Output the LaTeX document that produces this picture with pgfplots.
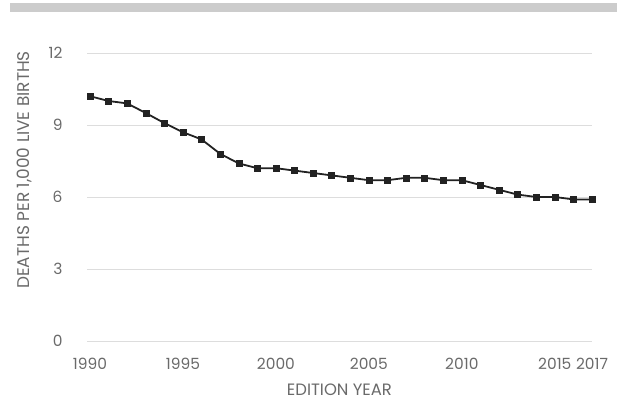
\documentclass[border=0pt]{standalone}
\usepackage{pgfplots}
\pgfplotsset{compat=1.18}
\usepackage{fontspec}
\setmainfont{Poppins}
\definecolor{txtc}{HTML}{6A6A6A}
\definecolor{gridc}{HTML}{DDDDDD}
\definecolor{linec}{HTML}{222222}
\definecolor{barc}{HTML}{CCCCCC}
\begin{document}
\begin{tikzpicture}
\useasboundingbox (0bp,0bp) rectangle (617bp,400bp);
\fill[barc] (10bp,388bp) rectangle (617bp,397bp);
\begin{axis}[
  at={(87bp,59bp)}, anchor=south west,
  scale only axis, width=505bp, height=288bp,
  xmin=1989.84, xmax=2017, ymin=0, ymax=12,
  axis line style={draw=none},
  ytick={0,3,6,9,12},
  xtick={1990,1995,2000,2005,2010,2015,2017},
  xticklabel style={/pgf/number format/1000 sep={}},
  /pgf/number format/assume math mode=true,
  ymajorgrids, grid style={gridc, line width=0.8pt},
  major tick length=0pt,
  tick label style={font=\fontsize{15.5}{18}\selectfont, text=txtc},
  yticklabel style={xshift=-21bp},
  xticklabel style={yshift=-14bp},
  xlabel={EDITION YEAR},
  ylabel={DEATHS PER 1,000 LIVE BIRTHS},
  xlabel style={font=\fontsize{16.5}{19}\selectfont, text=txtc, yshift=-7bp},
  ylabel style={font=\fontsize{17}{20}\selectfont, text=txtc, yshift=10bp, xshift=27bp},
  clip=false,
]
\addplot[draw=linec, line width=1.8pt, mark=square*, mark size=3bp, mark options={fill=linec, draw=linec, line width=0.4pt}]
coordinates {
(1990,10.2) (1991,10.0) (1992,9.9) (1993,9.5) (1994,9.08) (1995,8.7)
(1996,8.4) (1997,7.8) (1998,7.4) (1999,7.2) (2000,7.2) (2001,7.1)
(2002,7.0) (2003,6.9) (2004,6.8) (2005,6.7) (2006,6.7) (2007,6.8)
(2008,6.8) (2009,6.7) (2010,6.7) (2011,6.5) (2012,6.3) (2013,6.1)
(2014,6.0) (2015,6.0) (2016,5.9) (2017,5.9)
};
\end{axis}
\end{tikzpicture}
\end{document}
